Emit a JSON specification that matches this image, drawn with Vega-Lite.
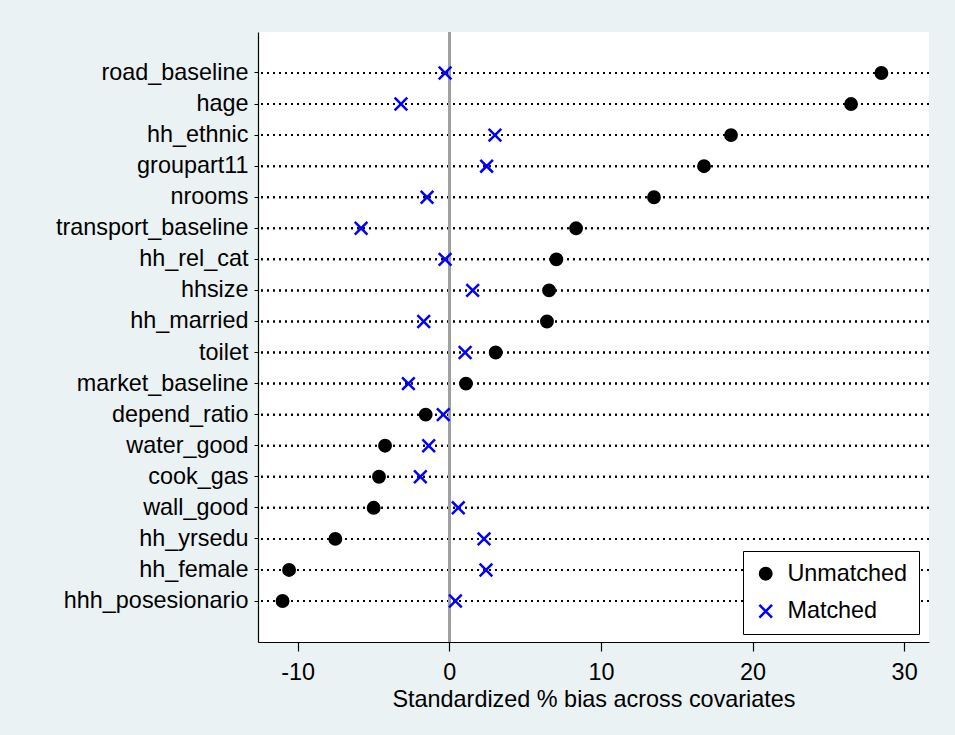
{
  "$schema": "https://vega.github.io/schema/vega-lite/v6.json",
  "autosize": "none",
  "width": 671,
  "height": 610,
  "padding": {"left": 258, "top": 32, "right": 26, "bottom": 93},
  "background": "#EAF2F3",
  "config": {
    "view": {"fill": "white", "stroke": null},
    "font": "Liberation Sans"
  },
  "data": {
    "values": [
      {"covariate": "road_baseline", "group": "Unmatched", "bias": 28.5},
      {"covariate": "hage", "group": "Unmatched", "bias": 26.5},
      {"covariate": "hh_ethnic", "group": "Unmatched", "bias": 18.58},
      {"covariate": "groupart11", "group": "Unmatched", "bias": 16.8},
      {"covariate": "nrooms", "group": "Unmatched", "bias": 13.5},
      {"covariate": "transport_baseline", "group": "Unmatched", "bias": 8.36},
      {"covariate": "hh_rel_cat", "group": "Unmatched", "bias": 7.06},
      {"covariate": "hhsize", "group": "Unmatched", "bias": 6.58},
      {"covariate": "hh_married", "group": "Unmatched", "bias": 6.44},
      {"covariate": "toilet", "group": "Unmatched", "bias": 3.06},
      {"covariate": "market_baseline", "group": "Unmatched", "bias": 1.1},
      {"covariate": "depend_ratio", "group": "Unmatched", "bias": -1.56},
      {"covariate": "water_good", "group": "Unmatched", "bias": -4.24},
      {"covariate": "cook_gas", "group": "Unmatched", "bias": -4.64},
      {"covariate": "wall_good", "group": "Unmatched", "bias": -4.99},
      {"covariate": "hh_yrsedu", "group": "Unmatched", "bias": -7.52},
      {"covariate": "hh_female", "group": "Unmatched", "bias": -10.57},
      {"covariate": "hhh_posesionario", "group": "Unmatched", "bias": -11.0},
      {"covariate": "road_baseline", "group": "Matched", "bias": -0.28},
      {"covariate": "hage", "group": "Matched", "bias": -3.19},
      {"covariate": "hh_ethnic", "group": "Matched", "bias": 3.01},
      {"covariate": "groupart11", "group": "Matched", "bias": 2.46},
      {"covariate": "nrooms", "group": "Matched", "bias": -1.47},
      {"covariate": "transport_baseline", "group": "Matched", "bias": -5.82},
      {"covariate": "hh_rel_cat", "group": "Matched", "bias": -0.28},
      {"covariate": "hhsize", "group": "Matched", "bias": 1.54},
      {"covariate": "hh_married", "group": "Matched", "bias": -1.69},
      {"covariate": "toilet", "group": "Matched", "bias": 1.04},
      {"covariate": "market_baseline", "group": "Matched", "bias": -2.7},
      {"covariate": "depend_ratio", "group": "Matched", "bias": -0.4},
      {"covariate": "water_good", "group": "Matched", "bias": -1.36},
      {"covariate": "cook_gas", "group": "Matched", "bias": -1.91},
      {"covariate": "wall_good", "group": "Matched", "bias": 0.59},
      {"covariate": "hh_yrsedu", "group": "Matched", "bias": 2.29},
      {"covariate": "hh_female", "group": "Matched", "bias": 2.42},
      {"covariate": "hhh_posesionario", "group": "Matched", "bias": 0.4}
    ]
  },
  "layer": [
    {
      "mark": {"type": "rule", "strokeDash": [2, 4], "strokeWidth": 2, "color": "black"},
      "encoding": {
        "y": {"field": "covariate", "type": "nominal", "sort": null, "bandPosition": 0.5, "scale": {"type": "band", "paddingInner": 0, "paddingOuter": 0.82}}
      }
    },
    {
      "mark": {"type": "rule", "color": "#A0A0A0", "strokeWidth": 2},
      "encoding": {
        "x": {"datum": 0, "type": "quantitative"}
      }
    },
    {
      "mark": {"type": "point", "strokeWidth": 2.5, "opacity": 1},
      "encoding": {
        "x": {
          "field": "bias",
          "type": "quantitative",
          "scale": {"domain": [-12.62, 31.64], "nice": false, "zero": false},
          "axis": {
            "title": "Standardized % bias across covariates",
            "values": [-10, 0, 10, 20, 30],
            "labelExpr": "'' + datum.value",
            "grid": false,
            "domainColor": "black",
            "domainWidth": 1.2,
            "tickColor": "black",
            "tickWidth": 1.2,
            "tickSize": 9,
            "labelFontSize": 23.4,
            "labelColor": "black",
            "labelPadding": 10,
            "titleFontSize": 23.4,
            "titleFontWeight": "normal",
            "titleColor": "black",
            "titlePadding": 5
          }
        },
        "y": {
          "field": "covariate",
          "type": "nominal",
          "sort": null,
          "scale": {"type": "band", "paddingInner": 0, "paddingOuter": 0.82},
          "axis": {
            "title": null,
            "grid": false,
            "domainColor": "black",
            "domainWidth": 1.2,
            "tickColor": "black",
            "tickWidth": 1,
            "tickSize": 4,
            "labelFontSize": 23.4,
            "labelColor": "black",
            "labelPadding": 6,
            "labelLimit": 400
          }
        },
        "shape": {
          "field": "group",
          "type": "nominal",
          "scale": {"domain": ["Unmatched", "Matched"], "range": ["circle", "M-1,-1L1,1M-1,1L1,-1"]},
          "legend": {
            "title": null,
            "orient": "none",
            "legendX": 485,
            "legendY": 519,
            "fillColor": "white",
            "strokeColor": "black",
            "padding": 11,
            "symbolOffset": 0,
            "labelFontSize": 23.4,
            "labelColor": "black",
            "labelOffset": 10,
            "rowPadding": 12.6,
            "symbolStrokeWidth": 2.5
          }
        },
        "fill": {
          "field": "group",
          "type": "nominal",
          "scale": {"domain": ["Unmatched", "Matched"], "range": ["black", "transparent"]},
          "legend": {"title": null}
        },
        "stroke": {
          "field": "group",
          "type": "nominal",
          "scale": {"domain": ["Unmatched", "Matched"], "range": ["black", "#0000FF"]},
          "legend": {"title": null}
        },
        "size": {
          "field": "group",
          "type": "nominal",
          "scale": {"domain": ["Unmatched", "Matched"], "range": [130, 160]},
          "legend": {"title": null}
        }
      }
    }
  ]
}
